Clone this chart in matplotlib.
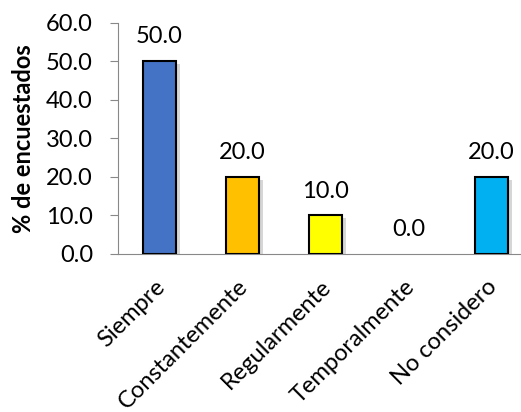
import matplotlib.pyplot as plt
from matplotlib import patheffects as pe
from matplotlib.transforms import ScaledTranslation

categorias = ['Siempre', 'Constantemente', 'Regularmente', 'Temporalmente', 'No considero']
valores = [50.0, 20.0, 10.0, 0.0, 20.0]
colores = ['#4472C4', '#FFC000', '#FFFF00', '#A5A5A5', '#00B0F0']
yticks = [0, 10, 20, 30, 40, 50, 60]

plt.rcParams['font.family'] = ['Lato', 'DejaVu Sans']

fig = plt.figure(figsize=(5.21, 4.12), dpi=100)
ax = fig.add_axes([118 / 521, 1 - 254 / 412, 415 / 521, (254 - 22.7) / 412])

x = list(range(len(categorias)))
anchos = [1.5 if v > 0 else 0 for v in valores]
bars = ax.bar(x, valores, width=0.4, color=colores, edgecolor='black', linewidth=anchos, zorder=3)
for b in bars:
    b.set_path_effects([pe.SimplePatchShadow(offset=(3, -2), shadow_rgbFace='#999999', alpha=0.4), pe.Normal()])

for xi, v in zip(x, valores):
    ax.annotate('%.1f' % v, (xi, v), xytext=(0, 10), textcoords='offset points',
                ha='center', va='bottom', fontsize=17)

ax.set_xlim(-0.5, 4.5)
ax.set_ylim(0, 60)
ax.set_yticks(yticks)
ax.set_yticklabels(['%.1f' % t for t in yticks], fontsize=17)
ax.set_xticks(x)
ax.set_xticklabels(categorias, rotation=45, ha='right', rotation_mode='anchor', fontsize=17)
ax.tick_params(axis='x', length=0, pad=16)
ax.tick_params(axis='y', length=6, color='#888888', pad=12)
desplaza = ScaledTranslation(-5 / 100, 0, fig.dpi_scale_trans)
for lbl in ax.get_xticklabels():
    lbl.set_transform(lbl.get_transform() + desplaza)
ax.set_ylabel('% de encuestados', fontsize=17, fontweight='bold')
ax.yaxis.set_label_coords(-0.2, 0.5)

for s in ['top', 'right']:
    ax.spines[s].set_visible(False)
ax.spines['left'].set_color('#888888')
ax.spines['bottom'].set_color('#888888')

fig.savefig('out.png', dpi=100)
